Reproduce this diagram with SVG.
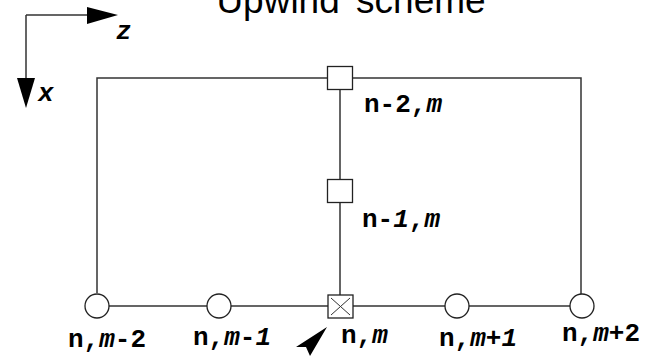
<svg xmlns="http://www.w3.org/2000/svg" width="661" height="356" viewBox="0 0 661 356">
  <style>
    .line { stroke: #333; stroke-width: 1.5; fill: none; }
    .node { stroke: #222; stroke-width: 1.3; fill: #fff; }
    .lbl { font-family: "Liberation Mono", "DejaVu Sans Mono", monospace; font-size: 26px; font-weight: bold; fill: #000; }
    .it { font-style: italic; }
    .title { font-family: "Liberation Sans", Arial, sans-serif; font-size: 37px; fill: #000; word-spacing: 6px; }
  </style>
  <rect width="661" height="356" fill="#fff"/>

  <text class="title" x="351" y="13" text-anchor="middle">Upwind scheme</text>

  <!-- coordinate axes -->
  <g id="axes">
    <path class="line" d="M26 15 H90 M26 15 V80"/>
    <polygon points="87,7 118,15 87,24" fill="#000"/>
    <polygon points="17,78 35,78 26,108" fill="#000"/>
    <text class="lbl it" x="116" y="39">z</text>
    <text class="lbl it" x="38" y="101">x</text>
  </g>

  <!-- connectors -->
  <g id="connectors">
    <path class="line" d="M97 293 V78 H581 V294"/>
    <path class="line" d="M340 89 V179 M340 202 V295"/>
    <path class="line" d="M109 306 H207 M231 306 H328 M353 306 H445 M469 306 H570"/>
  </g>

  <!-- grid nodes -->
  <g id="node-n2m">
    <rect class="node" x="327.5" y="66.5" width="25" height="23"/>
    <text class="lbl" x="364" y="112">n-2,<tspan class="it">m</tspan></text>
  </g>
  <g id="node-n1m">
    <rect class="node" x="327.5" y="179.5" width="25" height="23"/>
    <text class="lbl" x="362" y="227">n-<tspan class="it">1</tspan>,<tspan class="it">m</tspan></text>
  </g>
  <g id="node-nm2">
    <circle class="node" cx="97" cy="306" r="12"/>
    <text class="lbl" x="68" y="347">n,<tspan class="it">m</tspan>-2</text>
  </g>
  <g id="node-nm1">
    <circle class="node" cx="219" cy="306" r="12"/>
    <text class="lbl" x="193" y="345">n,<tspan class="it">m</tspan>-<tspan class="it">1</tspan></text>
  </g>
  <g id="node-nm">
    <rect class="node" x="328" y="295" width="25" height="23"/>
    <path d="M331 298 L350 315 M350 298 L331 315" stroke="#333" stroke-width="1" fill="none"/>
    <polygon points="327,327 296,347 306,347 310,356" fill="#000"/>
    <text class="lbl" x="341" y="343">n,<tspan class="it">m</tspan></text>
  </g>
  <g id="node-np1">
    <circle class="node" cx="457" cy="306" r="12"/>
    <text class="lbl" x="439" y="346">n,<tspan class="it">m</tspan>+<tspan class="it">1</tspan></text>
  </g>
  <g id="node-np2">
    <circle class="node" cx="582" cy="306" r="12"/>
    <text class="lbl" x="562" y="341">n,<tspan class="it">m</tspan>+2</text>
  </g>
</svg>
